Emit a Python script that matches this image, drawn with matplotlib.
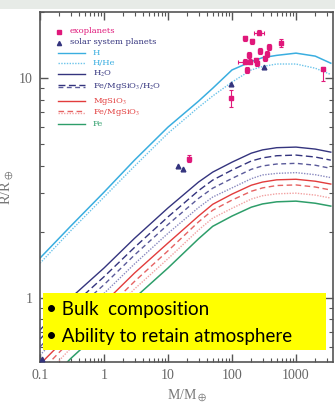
import matplotlib
matplotlib.use("Agg")
import matplotlib.pyplot as plt
from matplotlib.patches import Rectangle

plt.rcParams['mathtext.fontset'] = 'stix'

# ---------------- data ----------------
mass = [0.1, 0.3, 1, 3, 10, 30, 50, 100, 200, 300, 500, 1000, 2000, 3500]

r_h      = [1.52, 2.12, 3.03, 4.24, 5.99, 7.86, 9.0, 10.9, 11.9, 12.4, 12.7, 13.0, 12.6, 11.7]
r_hhe    = [1.44, 2.02, 2.88, 3.98, 5.62, 7.37, 8.3, 9.6, 10.9, 11.3, 11.6, 11.6, 11.1, 10.4]
r_h2o    = [0.716, 1.0, 1.37, 1.87, 2.57, 3.37, 3.74, 4.15, 4.56, 4.72, 4.83, 4.86, 4.76, 4.61]
r_mix1   = [0.65, 0.91, 1.25, 1.70, 2.34, 3.08, 3.44, 3.82, 4.20, 4.34, 4.44, 4.47, 4.38, 4.24]
r_mix2   = [0.60, 0.84, 1.15, 1.57, 2.16, 2.84, 3.16, 3.50, 3.85, 3.99, 4.07, 4.10, 4.02, 3.89]
r_mix3   = [0.55, 0.765, 1.05, 1.43, 1.97, 2.58, 2.88, 3.17, 3.49, 3.63, 3.69, 3.72, 3.64, 3.53]
r_mgsio3 = [0.50, 0.69, 0.95, 1.30, 1.78, 2.36, 2.67, 2.97, 3.26, 3.37, 3.45, 3.47, 3.40, 3.30]
r_femg1  = [0.46, 0.64, 0.87, 1.19, 1.64, 2.22, 2.51, 2.79, 3.06, 3.17, 3.25, 3.27, 3.20, 3.10]
r_femg2  = [0.42, 0.59, 0.80, 1.10, 1.51, 2.04, 2.31, 2.56, 2.82, 2.92, 2.98, 3.00, 2.94, 2.85]
r_fe     = [0.38, 0.53, 0.73, 1.00, 1.37, 1.86, 2.12, 2.36, 2.59, 2.68, 2.74, 2.76, 2.70, 2.62]

exo_m = [267, 160, 207, 583, 271, 184, 374, 348, 160, 191, 237, 328, 171, 248, 2610, 96, 21.5]
exo_r = [16.1, 15.2, 14.7, 14.5, 13.3, 12.8, 13.9, 12.9, 11.9, 11.9, 12.1, 12.3, 10.9, 11.7, 10.96, 8.13, 4.31]
exo_mlo = [45, 0, 0, 0, 0, 0, 0, 0, 35, 0, 0, 0, 0, 0, 0, 0, 0]
exo_mhi = [50, 0, 0, 0, 0, 0, 0, 0, 45, 0, 0, 0, 0, 0, 0, 0, 0]
exo_rlo = [0.4, 0.4, 0.4, 0.6, 0.4, 0.4, 0.4, 0.4, 0.3, 0.3, 0.3, 0.3, 0.3, 0.3, 1.3, 0.7, 0.15]
exo_rhi = [0.4, 0.4, 0.4, 0.6, 0.4, 0.4, 0.4, 0.4, 0.3, 0.3, 0.3, 0.3, 0.3, 0.3, 0.3, 0.7, 0.15]

sol_m = [0.107, 0.815, 1.0, 14.5, 17.1, 95.2, 318]
sol_r = [0.53, 0.95, 1.0, 4.0, 3.88, 9.45, 11.2]

xticks = [0.1, 1, 10, 100, 1000]
xticklabels = ['0.1', '1', '10', '100', '1000']
yticks = [1, 10]
yticklabels = ['1', '10']

# ---------------- figure ----------------
W, H = 335, 413
fig = plt.figure(figsize=(W / 100, H / 100), dpi=100)
fig.patch.set_facecolor('white')
fig.patches.append(Rectangle((0, 1 - 9 / H), 1, 9 / H, transform=fig.transFigure,
                             facecolor='#e7ebe7', edgecolor='none', zorder=-5))

ax = fig.add_axes([40 / W, 1 - 362 / H, 293 / W, 350 / H])
ax.set_xscale('log')
ax.set_yscale('log')
ax.set_xlim(0.1, 3790)
ax.set_ylim(0.512, 20)

cyan = '#3aaee0'
cyan2 = '#6cc4ea'
navy = '#34347e'
navy2 = '#5a5a9a'
navy3 = '#8a8ac0'
red = '#e23c3c'
red2 = '#e66262'
red3 = '#f2a2a2'
green = '#2e9e6a'
mag = '#e0187a'

ax.plot(mass, r_h, color=cyan, lw=1.1)
ax.plot(mass, r_hhe, color=cyan2, lw=1.0, ls=(0, (1, 1)))
ax.plot(mass, r_h2o, color=navy, lw=1.0)
ax.plot(mass, r_mix1, color=navy, lw=1.0, ls=(0, (5, 2.5)))
ax.plot(mass, r_mix2, color=navy2, lw=1.0, ls=(0, (3.5, 2.5)))
ax.plot(mass, r_mix3, color=navy3, lw=1.0, ls=(0, (1, 1)))
ax.plot(mass, r_mgsio3, color=red, lw=1.0)
ax.plot(mass, r_femg1, color=red2, lw=1.0, ls=(0, (4, 2.5)))
ax.plot(mass, r_femg2, color=red3, lw=1.0, ls=(0, (1, 1)))
ax.plot(mass, r_fe, color=green, lw=1.1)

ax.errorbar(exo_m, exo_r, xerr=[exo_mlo, exo_mhi], yerr=[exo_rlo, exo_rhi], fmt='s',
            color=mag, ms=3.4, elinewidth=0.8, capsize=1.5, capthick=0.8, zorder=5)
ax.plot(sol_m, sol_r, '^', color=navy, ms=3.4, ls='none', zorder=5)

# axes styling
for s in ax.spines.values():
    s.set_color('#555555')
    s.set_linewidth(1.2)
ax.tick_params(which='both', direction='in', top=True, right=True, colors='#555555')
ax.tick_params(which='major', length=6, width=1.0, labelsize=10, pad=5)
ax.tick_params(which='minor', length=3, width=0.8)
ax.set_xticks(xticks)
ax.set_xticklabels(xticklabels, family='Liberation Serif', color='#666666')
ax.set_yticks(yticks)
ax.set_yticklabels(yticklabels, family='Liberation Serif', color='#666666')
ax.set_xlabel(r'M/M$_\oplus$', family='Liberation Serif', color='#777777', fontsize=10, labelpad=4)
ax.set_ylabel(r'R/R$_\oplus$', family='Liberation Serif', color='#777777', fontsize=10.5, labelpad=3)

# legend (manual, in axes fraction)
def fx(px):
    return (px - 40) / 293

def fy(py):
    return (362 - py) / 350

lfont = dict(family='DejaVu Serif', fontsize=6.0, va='center', transform=ax.transAxes)
ax.plot([fx(59)], [fy(32)], 's', color=mag, ms=3, transform=ax.transAxes)
ax.text(fx(70), fy(31), 'exoplanets', color=mag, **lfont)
ax.plot([fx(59)], [fy(43)], '^', color=navy, ms=3, transform=ax.transAxes)
ax.text(fx(70), fy(42), 'solar system planets', color=navy, **lfont)

rows = [
    (53, [(cyan, '-')], 'H', cyan),
    (63, [(cyan2, (0, (1, 1)))], 'H/He', cyan),
    (74, [(navy, '-')], r'H$_2$O', navy),
    (86, [(navy, (0, (5, 2.5))), (navy2, (0, (3.5, 2.5)))], r'Fe/MgSiO$_3$/H$_2$O', navy),
    (101, [(red, '-')], r'MgSiO$_3$', red),
    (112, [(red2, (0, (4, 2.5))), (red3, (0, (1, 1)))], r'Fe/MgSiO$_3$', red),
    (124, [(green, '-')], 'Fe', green),
]
for py, styles, label, tc in rows:
    n = len(styles)
    for i, (c, ls) in enumerate(styles):
        off = (i - (n - 1) / 2) * 2.5
        ax.plot([fx(58), fx(85)], [fy(py + off)] * 2, color=c, ls=ls, lw=1.0,
                transform=ax.transAxes)
    ax.text(fx(93), fy(py), label, color=tc, **lfont)

# yellow annotation box
fig.patches.append(Rectangle((43 / W, 1 - 350 / H), (326 - 43) / W, (350 - 293) / H,
                             transform=fig.transFigure, facecolor='#ffff00',
                             edgecolor='none', zorder=10))
tfont = dict(family='Lato', fontsize=13.5, color='black', va='baseline', zorder=11)
fig.text(46 / W, 1 - 315 / H, '\u2022 Bulk  composition', **tfont)
fig.text(46 / W, 1 - 342 / H, '\u2022 Ability to retain atmosphere', **tfont)

fig.savefig('out.png', dpi=100)
